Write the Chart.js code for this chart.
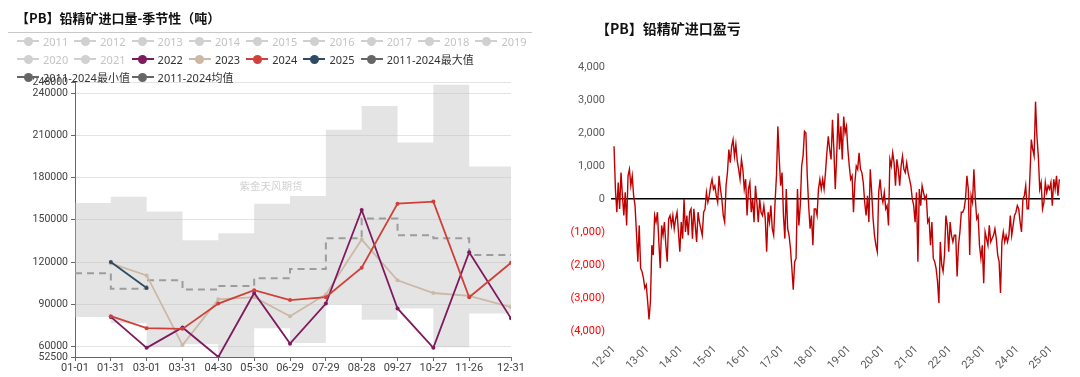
<!DOCTYPE html>
<html>
<head>
<meta charset="utf-8">
<script src="https://cdn.jsdelivr.net/npm/chart.js@4.4.0/dist/chart.umd.min.js"></script>
<style>
body { margin: 0; background: #fff; font-family: "Noto Sans", "Noto Sans CJK SC", sans-serif; }
#wrap { position: relative; width: 1080px; height: 377px; overflow: hidden; }
canvas { position: absolute; top: 0; }
#c1 { left: 0; }
#c2 { left: 540px; }
.title { position: absolute; font-family: "Noto Sans CJK SC", sans-serif; font-weight: 700; color: #111; white-space: nowrap; line-height: 1; }
#t1 { left: 16px; top: 11px; font-size: 13px; }
#t2 { left: 596px; top: 21px; font-size: 14px; }
#rule { position: absolute; left: 8px; top: 32px; width: 524px; height: 1px; background: #c8c8c8; }
#legend { position: absolute; left: 17px; top: 32px; width: 520px; display: flex; flex-wrap: wrap; }
.item { height: 18px; display: flex; align-items: center; font-size: 11px; white-space: nowrap; }
.mk { position: relative; width: 22px; height: 18px; margin-right: 4px; flex: none; }
.mk .ln { position: absolute; left: 0; top: 8px; width: 22px; height: 2px; }
.mk .dot { position: absolute; left: 6.5px; top: 4.5px; width: 9px; height: 9px; border-radius: 50%; }
</style>
</head>
<body>
<div id="wrap">
  <canvas id="c1" width="540" height="377"></canvas>
  <canvas id="c2" width="540" height="377"></canvas>
  <div class="title" id="t1">【PB】铅精矿进口量-季节性（吨）</div>
  <div id="rule"></div>
  <div id="legend"></div>
  <div class="title" id="t2">【PB】铅精矿进口盈亏</div>
</div>
<script>
// ---------- 左图：铅精矿进口量季节性 ----------
const dayTicks = [0, 30, 60, 90, 120, 150, 180, 210, 240, 270, 300, 330, 365];
const dayLabels = ['01-01', '01-31', '03-01', '03-31', '04-30', '05-30', '06-29', '07-29', '08-28', '09-27', '10-27', '11-26', '12-31'];
const volTicks = [52500, 60000, 90000, 120000, 150000, 180000, 210000, 240000, 248000];

const bandMax = [162000, 166500, 156000, 135500, 140500, 161500, 167000, 214000, 231000, 205000, 246000, 188000];
const bandMin = [81000, 76500, 59500, 61500, 52500, 73000, 62500, 90000, 79000, 87000, 59500, 83500];
const bandMean = [112000, 101000, 107000, 100500, 103000, 108500, 115000, 137000, 151000, 139000, 137000, 125000];

const vol2022 = [81000, 59000, 73500, 52500, 98000, 62000, 90500, 157000, 87000, 59000, 127000, 80000];
const vol2023 = [119000, 110500, 61000, 93500, 95000, 81500, 97000, 136000, 107000, 98000, 96000, 88000];
const vol2024 = [81500, 73000, 72500, 90500, 100000, 93000, 95000, 116000, 161500, 163000, 95000, 119500];
const vol2025 = [120000, 101500];

const legendNames = ['2011', '2012', '2013', '2014', '2015', '2016', '2017', '2018', '2019', '2020', '2021',
    '2022', '2023', '2024', '2025', '2011-2024最大值', '2011-2024最小值', '2011-2024均值'];
const legendColors = ['#d0d0d0', '#d0d0d0', '#d0d0d0', '#d0d0d0', '#d0d0d0', '#d0d0d0', '#d0d0d0', '#d0d0d0', '#d0d0d0', '#d0d0d0', '#d0d0d0',
    '#7e1a5e', '#cbb9a5', '#d0403a', '#2f4a63', '#666666', '#666666', '#666666'];

// ---------- 右图：进口盈亏 ----------
const yearTicks = [2012, 2013, 2014, 2015, 2016, 2017, 2018, 2019, 2020, 2021, 2022, 2023, 2024, 2025];
const yearLabels = ['12-01', '13-01', '14-01', '15-01', '16-01', '17-01', '18-01', '19-01', '20-01', '21-01', '22-01', '23-01', '24-01', '25-01'];

const profit2012 = [1600, 300, -400, 500, -300, 800, 100, -500, 200, -800, 700, 900, 400, 700, 100, -200, -1000, -1900, -800, -2100, -2200, -2400, -2700, -2600];
const profit2013 = [-3100, -3650, -3100, -1400, -1700, -500, -700, -400, -1300, -2100, -800, -1100, -700, -1400, -1900, -600, -500, -800, -500, -900, -600, -400, -1000, -1600];
const profit2014 = [-700, -1200, 0, -1000, -500, -1100, -400, -300, -1200, -300, -800, -1300, -400, -700, -900, -1100, -400, -300, 200, -100, 100, 400, 600, 300];
const profit2015 = [400, 100, -100, 700, 300, 0, -500, -700, 400, 800, 1500, 1100, 1600, 1800, 1300, 1650, 1150, 900, 600, 1200, 900, 300, 600, -500];
const profit2016 = [300, 500, -400, 0, -700, 400, -100, -700, 0, -400, -500, -200, -600, -1600, -400, -700, -200, -900, -1100, -100, 700, 2200, 1200, 400];
const profit2017 = [800, -500, -1200, 300, -900, -1100, -1500, -2100, -2750, -1900, -1800, 300, -800, -200, 1000, 1300, 2050, 2000, 700, -200, -900, -500, -1400, -300];
const profit2018 = [-300, -500, 300, 600, 300, 600, 300, 800, 1400, 1900, 1500, 1200, 2400, 1500, 300, 1300, 2600, 1500, 2200, 1200, 2500, 2000, 2200, 1500];
const profit2019 = [1000, 600, 700, -400, 500, 1000, 900, 1400, 900, 800, 500, -100, -500, 100, -700, 900, 200, -600, -1100, -1400, -1600, 200, 600, 100];
const profit2020 = [-100, 200, -300, -200, -800, 1200, 1000, 1400, 1100, 400, 1200, 900, 400, 1000, 1300, 900, 800, 1100, 800, 600, 400, 0, -200, -700];
const profit2021 = [200, -1900, 300, -200, 400, 200, 0, 100, -700, -600, -1400, -700, -1800, -1900, -2100, -2500, -3150, -1300, -2000, -2200, -1700, -500, -800, -1600];
const profit2022 = [-700, -1100, -1300, -1100, -1100, -2350, -1400, -1000, -400, -400, -300, 0, 700, 300, -1700, 100, -100, 900, 0, -600, -500, -1400, -1800, -1400];
const profit2023 = [-2550, -1000, -1200, -1400, -800, -1300, -1200, -1100, -900, -1200, -1700, -1900, -2850, -1300, -1000, -1300, -1100, -1300, -1100, -500, -1100, -800, -500, -400];
const profit2024 = [-200, -300, -700, -1000, 0, 100, 400, -300, -300, 700, 1800, 1500, 1300, 2950, 1900, 1300, 300, 500, -300, -100, 500, 200, 400, 300];
const profit2025 = [500, -200, 600, 300, 700, 100, 600];

const profitYears = [profit2012, profit2013, profit2014, profit2015, profit2016, profit2017, profit2018,
    profit2019, profit2020, profit2021, profit2022, profit2023, profit2024, profit2025];

// 图例（HTML）
const legendBox = document.getElementById('legend');
legendNames.forEach((name, i) => {
    const col = legendColors[i];
    const item = document.createElement('div');
    item.className = 'item';
    item.style.width = name.length > 6 ? '114.6px' : '57.3px';
    item.style.color = i < 11 ? '#c4c4c4' : '#333';
    item.innerHTML = '<div class="mk"><div class="ln" style="background:' + col + '"></div>' +
        '<div class="dot" style="background:' + col + '"></div></div><span>' + name + '</span>';
    legendBox.appendChild(item);
});

function stepPoints(values) {
    return dayTicks.map((d, i) => ({ x: d, y: values[Math.min(i, values.length - 1)] }));
}
function monthPoints(values) {
    return values.map((v, i) => ({ x: dayTicks[i + 1], y: v }));
}
function yearLine(values, color) {
    return {
        data: monthPoints(values),
        borderColor: color,
        backgroundColor: color,
        borderWidth: 1.8,
        pointRadius: 2,
        pointBorderWidth: 0,
        fill: false
    };
}

// 水印
const watermark = {
    id: 'watermark',
    beforeDatasetsDraw(chart) {
        const c = chart.ctx;
        c.save();
        c.font = '10.5px "Noto Sans CJK SC"';
        c.fillStyle = '#d2d2d2';
        c.textAlign = 'center';
        c.textBaseline = 'middle';
        c.fillText('紫金天风期货', 271, 186);
        c.restore();
    }
};

new Chart(document.getElementById('c1').getContext('2d'), {
    type: 'line',
    data: {
        datasets: [
            { data: stepPoints(bandMax), stepped: 'before', borderWidth: 0, pointRadius: 0, backgroundColor: 'rgba(190,190,190,0.42)', fill: '+1', order: 10 },
            { data: stepPoints(bandMin), stepped: 'before', borderWidth: 0, pointRadius: 0, fill: false, order: 10 },
            { data: stepPoints(bandMean), stepped: 'before', borderColor: '#9c9c9c', borderWidth: 2, borderDash: [7, 5], pointRadius: 0, fill: false, order: 9 },
            Object.assign(yearLine(vol2023, '#cbb9a5'), { order: 4 }),
            Object.assign(yearLine(vol2022, '#7e1a5e'), { order: 3 }),
            Object.assign(yearLine(vol2024, '#d0403a'), { order: 2 }),
            Object.assign(yearLine(vol2025, '#2f4a63'), { order: 1 })
        ]
    },
    options: {
        responsive: false,
        animation: false,
        layout: { padding: { top: 82, right: 29, left: 0, bottom: 0 } },
        plugins: { legend: { display: false }, tooltip: { enabled: false } },
        scales: {
            x: {
                type: 'linear',
                min: 0,
                max: 365,
                afterBuildTicks: (s) => { s.ticks = dayTicks.map(v => ({ value: v })); },
                afterFit: (s) => { s.height = 20; },
                ticks: {
                    autoSkip: false,
                    maxRotation: 0,
                    padding: 1,
                    color: '#404040',
                    font: { family: 'Roboto', size: 11 },
                    callback: (v, i) => dayLabels[i]
                },
                grid: { drawOnChartArea: false, tickLength: 4, tickColor: '#666' },
                border: { color: '#666' }
            },
            y: {
                min: 52500,
                max: 248000,
                afterBuildTicks: (s) => { s.ticks = volTicks.map(v => ({ value: v })); },
                afterFit: (s) => { s.width = 75; },
                ticks: {
                    autoSkip: false,
                    padding: 3,
                    color: '#404040',
                    font: { family: 'Roboto', size: 10.5 },
                    callback: (v) => String(v)
                },
                grid: { color: '#e4e4e4', tickLength: 4, tickColor: '#666' },
                border: { color: '#666' }
            }
        }
    },
    plugins: [watermark]
});

// 右图数据点：每年 24 个半月值
const profitData = [];
profitYears.forEach((arr, k) => {
    arr.forEach((v, i) => profitData.push({ x: yearTicks[k] + i / 24, y: v }));
});

function fmtProfit(v) {
    const s = Math.abs(v).toLocaleString('en-US');
    return v < 0 ? '(' + s + ')' : s;
}

new Chart(document.getElementById('c2').getContext('2d'), {
    type: 'line',
    data: {
        datasets: [{
            data: profitData,
            borderColor: '#c00000',
            borderWidth: 1.4,
            pointRadius: 0,
            fill: false
        }]
    },
    options: {
        responsive: false,
        animation: false,
        layout: { padding: { top: 67, right: 20, left: 0, bottom: 0 } },
        plugins: { legend: { display: false }, tooltip: { enabled: false } },
        scales: {
            x: {
                type: 'linear',
                min: 2011.91,
                max: 2025.27,
                afterBuildTicks: (s) => { s.ticks = yearTicks.map(v => ({ value: v })); },
                afterFit: (s) => { s.height = 46; },
                ticks: {
                    autoSkip: false,
                    minRotation: 45,
                    maxRotation: 45,
                    padding: 4,
                    color: '#595959',
                    font: { family: 'Roboto', size: 11 },
                    callback: (v, i) => yearLabels[i]
                },
                grid: { display: false },
                border: { display: false }
            },
            y: {
                min: -4000,
                max: 4000,
                afterFit: (s) => { s.width = 71; },
                ticks: {
                    stepSize: 1000,
                    padding: 6,
                    font: { family: 'Roboto', size: 11 },
                    color: (ctx) => ctx.tick.value < 0 ? '#ff0000' : '#595959',
                    callback: (v) => fmtProfit(v)
                },
                grid: {
                    drawTicks: false,
                    lineWidth: 1.5,
                    color: (ctx) => ctx.tick.value === 0 ? '#000000' : 'rgba(0,0,0,0)'
                },
                border: { display: false }
            }
        }
    }
});
</script>
</body>
</html>
